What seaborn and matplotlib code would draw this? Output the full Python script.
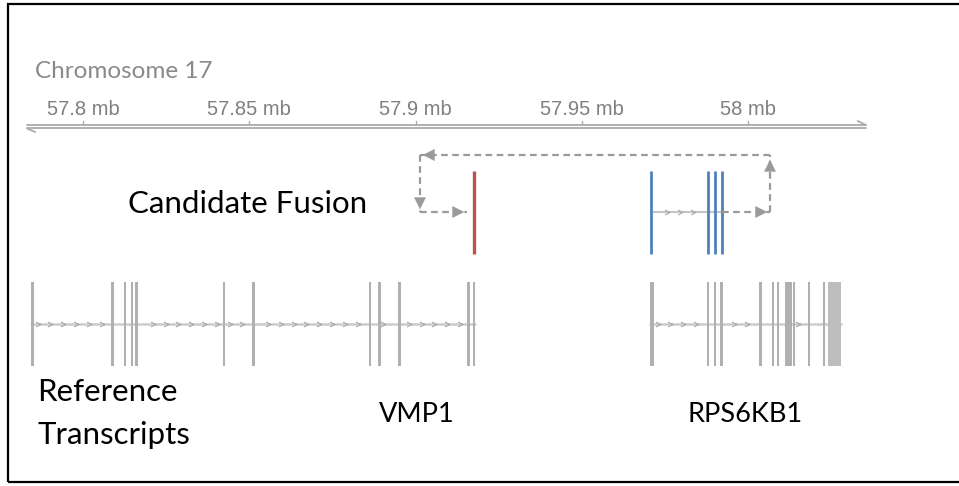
import numpy as np
import matplotlib
matplotlib.use("Agg")
import matplotlib.pyplot as plt
from matplotlib.path import Path
from matplotlib.patches import Rectangle
import seaborn as sns

# genomic axis (mb)
tick_pos = [57.8, 57.85, 57.9, 57.95, 58.0]
tick_labels = ["57.8 mb", "57.85 mb", "57.9 mb", "57.95 mb", "58 mb"]
axis_start, axis_end = 57.7832, 58.0354

# reference transcripts, exon starts / ends in mb
vmp1_starts = [57.78448, 57.80841, 57.81223, 57.81433, 57.81574, 57.84199,
               57.85080, 57.88588, 57.88868, 57.89469, 57.91556, 57.91715]
vmp1_ends = [57.78528, 57.80921, 57.81303, 57.81513, 57.81654, 57.84279,
             57.85160, 57.88668, 57.88948, 57.89549, 57.91636, 57.91795]
rps_starts = [57.97055, 57.98759, 57.98970, 57.99171, 58.00344, 58.00713, 58.00864,
              58.01121, 58.01191, 58.01251, 58.01345, 58.01796, 58.02247, 58.02407]
rps_ends = [57.97175, 57.98839, 57.99050, 57.99251, 58.00424, 58.00793, 58.00944,
            58.01191, 58.01251, 58.01321, 58.01425, 58.01876, 58.02327, 58.02810]
gene_names = ["VMP1", "RPS6KB1"]
gene_label_pos = [57.9004, 57.9991]

# candidate fusion exons
fusion_5p = [57.91759]
fusion_3p = [57.97085, 57.98799, 57.99010, 57.99211]
loop_left, loop_right = 57.90135, 58.00662

px = 3325.0  # pixels per mb in the output image
x0 = 57.8 - 83 / px

sns.set_theme(style="white")
plt.rcParams['font.family'] = ['Lato', 'DejaVu Sans']

fig = plt.figure(figsize=(9.59, 4.86), dpi=100)
ax = fig.add_axes([0, 0, 1, 1])
ax.set_xlim(x0, x0 + 959 / px)
ax.set_ylim(486, 0)
ax.axis('off')

# outer frame
fig.patches.append(Rectangle((8 / 959, 4 / 486), 1.2, 478 / 486, transform=fig.transFigure,
                             fill=False, ec='black', lw=1.6))

# chromosome axis (double line with barbs)
axc = '#aaaaaa'
ax.plot([axis_start, axis_end], [125, 125], color=axc, lw=1.3)
ax.plot([axis_start, axis_end], [128.5, 128.5], color=axc, lw=1.3)
ax.plot([axis_end, axis_end - 8 / px], [125, 121], color=axc, lw=1.3)
ax.plot([axis_start, axis_start + 8 / px], [128.5, 132], color=axc, lw=1.3)
for t, lab in zip(tick_pos, tick_labels):
    ax.plot([t, t], [121, 125], color=axc, lw=1)
    ax.text(t, 109, lab, ha='center', va='center', fontsize=14.5, color='#808080',
            family='Liberation Sans')
ax.text(x0 + 35 / px, 72, "Chromosome 17", ha='left', va='center', fontsize=17.5, color='#8a8a8a')

chev = Path([(-1, 1), (1, 0), (-1, -1)], [Path.MOVETO, Path.LINETO, Path.LINETO])


def chevrons(starts, ends, first, last, y, step=12.8 / px, margin=2.2 / px):
    pos = np.arange(first + 3.5 / px, last, step)
    keep = [p for p in pos if not any(s - margin <= p <= e + margin for s, e in zip(starts, ends))]
    ax.plot(keep, [y] * len(keep), ls='', marker=chev, ms=3.5, mfc='none', mec='#a8a8a8', mew=0.8)


# reference transcripts
for starts, ends in [(vmp1_starts, vmp1_ends), (rps_starts, rps_ends)]:
    ax.plot([starts[0], ends[-1]], [324, 324], color='#cccccc', lw=1.8, zorder=1)
    chevrons(starts, ends, ends[0], starts[-1], 324)
    for s, e in zip(starts, ends):
        fc = '#bdbdbd' if e - s > 0.002 else '#b0b0b0'
        ax.add_patch(Rectangle((s, 282), e - s, 84, fc=fc, ec='none', zorder=2))

for name, xpos in zip(gene_names, gene_label_pos):
    ax.text(xpos, 414, name, ha='center', va='center', fontsize=19.5, color='black')
ax.text(x0 + 37 / px, 392, "Reference", ha='left', va='center', fontsize=22.5, color='black')
ax.text(x0 + 37 / px, 435, "Transcripts", ha='left', va='center', fontsize=22.5, color='black')

# candidate fusion
ax.text(x0 + 128 / px, 204, "Candidate Fusion", ha='left', va='center', fontsize=22.5, color='black')
ax.plot([fusion_3p[0], fusion_3p[-1]], [212, 212], color='#c4c4c4', lw=1.5, zorder=1)
fs = [f - 0.0004 for f in fusion_3p]
chevrons(fs, [f + 0.0008 for f in fs], fusion_3p[0], fusion_3p[-1], 212)
ax.vlines(fusion_5p, 171, 254, color='#c0504d', lw=2.4)
ax.vlines(fusion_3p, 171, 254, color='#4f81bd', lw=2)

# dashed junction loop
dc = '#9a9a9a'
path = [(fusion_3p[-1], 212), (loop_right, 212), (loop_right, 157),
        (loop_right, 155), (loop_left, 155), (loop_left, 212), (fusion_5p[0] - 7 / px, 212)]
for (xa, ya), (xb, yb) in zip(path[:-1], path[1:]):
    ax.plot([xa, xb], [ya, yb], color=dc, lw=1.6, ls=(0, (3, 2)))
    if abs(yb - ya) == 2:
        continue
    dx = np.sign(xb - xa) * 10 / px
    dy = np.sign(yb - ya) * 10
    ax.annotate('', xy=(xb, yb), xytext=(xb - dx, yb - dy),
                arrowprops=dict(arrowstyle='-|>,head_length=0.7,head_width=0.35', color=dc, lw=0.1))

fig.savefig("out.png", dpi=100)
